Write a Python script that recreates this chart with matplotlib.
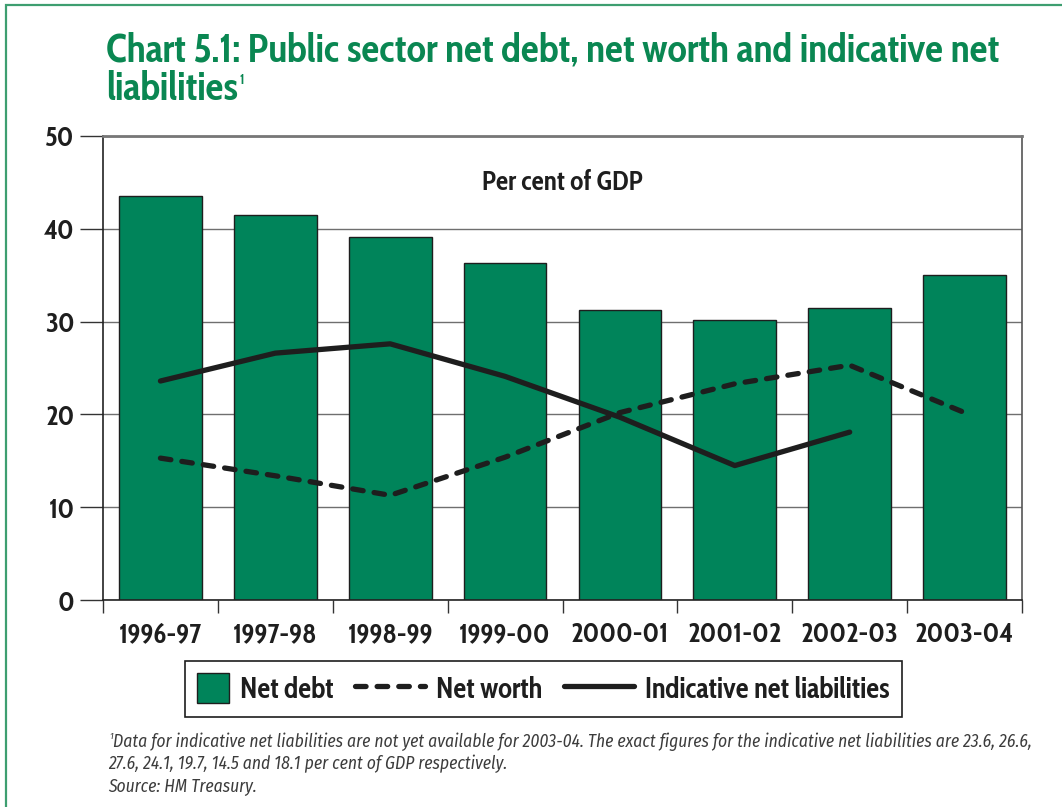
import numpy as np
import matplotlib
matplotlib.use("Agg")
import matplotlib.pyplot as plt
from matplotlib.patches import Patch, Rectangle
from matplotlib.lines import Line2D
from matplotlib.legend_handler import HandlerLine2D

# ---- data -------------------------------------------------------------
years = ["1996-97", "1997-98", "1998-99", "1999-00",
         "2000-01", "2001-02", "2002-03", "2003-04"]
net_debt = [43.5, 41.5, 39.1, 36.3, 31.2, 30.2, 31.5, 35.0]
net_worth = [15.3, 13.4, 11.3, 15.4, 20.2, 23.3, 25.3, 20.2]
indicative_liabilities = [23.6, 26.6, 27.6, 24.1, 19.7, 14.5, 18.1]
y_ticks = [0, 10, 20, 30, 40, 50]

# ---- style ------------------------------------------------------------
GREEN = "#00845A"
TITLE_GREEN = "#0A8752"
FRAME_GREEN = "#3E9E70"
INK = "#1e1e1e"
FONT = ["Cabin Condensed", "PT Sans Narrow", "DejaVu Sans"]
NOTE_FONT = ["Fira Sans Condensed", "Cabin", "DejaVu Sans"]
plt.rcParams["font.family"] = FONT

LINE_W = 3.8
DASH = (0, (2.0, 2.1))

W, H = 1062, 807
fig = plt.figure(figsize=(W / 100, H / 100), dpi=100)


def fx(px):
    return px / W


def fy(py):
    return 1 - py / H


# page frame (top and left rules of the box)
fig.patches.append(Rectangle((fx(6), fy(1200)), fx(1300), fy(5) - fy(1200),
                             transform=fig.transFigure, fill=False,
                             edgecolor=FRAME_GREEN, lw=1.6))

# title
fig.text(fx(106), fy(61), "Chart 5.1: Public sector net debt, net worth and indicative net",
         color=TITLE_GREEN, fontsize=28.6, fontweight="bold", va="baseline", ha="left")
t2 = fig.text(fx(106), fy(100), "liabilities", color=TITLE_GREEN, fontsize=28.6,
              fontweight="bold", va="baseline", ha="left")
fig.canvas.draw()
bb = t2.get_window_extent()
fig.text(bb.x1 / W + fx(2), fy(84), "1", color=TITLE_GREEN, fontsize=10,
         fontweight="bold", va="baseline", ha="left")

# ---- axes ---------------------------------------------------------------
left, right, top, bottom = 103, 1022, 135.7, 600.3
ax = fig.add_axes([fx(left), fy(bottom), fx(right - left), (bottom - top) / H])

x = np.arange(len(years))
ax.bar(x, net_debt, width=0.72, color=GREEN, edgecolor=INK, lw=1.0, zorder=2)
ax.plot(x, net_worth, color=INK, lw=LINE_W, ls=DASH,
        dash_capstyle="round", solid_capstyle="round", zorder=3)
ax.plot(x[:len(indicative_liabilities)], indicative_liabilities, color=INK,
        lw=LINE_W, solid_capstyle="round", solid_joinstyle="round", zorder=3)

ax.set_xlim(-0.5, len(years) - 0.5)
ax.set_ylim(0, 50)
ax.set_yticks(y_ticks)
ax.set_yticklabels([str(v) for v in y_ticks], fontsize=20, fontweight="bold", color=INK)
ax.tick_params(axis="y", length=16.5, width=1.0, color="#333333", pad=4)

ax.set_xticks(x)
ax.set_xticklabels(years, fontsize=20, fontweight="bold", color=INK)
ax.set_xticks(np.arange(-0.5, len(years)), minor=True)
ax.tick_params(axis="x", which="major", length=0, pad=15)
ax.tick_params(axis="x", which="minor", length=9, width=1.0, color="#333333", direction="out")

ax.yaxis.grid(True, color="#6f6f6f", lw=1.0, zorder=0)
ax.set_axisbelow(True)
for side in ("left", "bottom"):
    ax.spines[side].set_color("#222222")
    ax.spines[side].set_linewidth(1.2)
ax.spines["top"].set_color("#777777")
ax.spines["top"].set_linewidth(2.0)
ax.spines["right"].set_color("#555555")
ax.spines["right"].set_linewidth(1.2)

ax.text(0.5, 0.898, "Per cent of GDP", transform=ax.transAxes, ha="center",
        va="center", fontsize=19.5, fontweight="bold", color=INK)


# ---- legend -------------------------------------------------------------
class WideLineHandler(HandlerLine2D):
    """Line handle that extends to the left of its (narrow) handle box."""

    def __init__(self, span, **kw):
        super().__init__(**kw)
        self.span = span

    def get_xdata(self, legend, xdescent, ydescent, width, height, fontsize):
        x1 = -xdescent + width
        x0 = x1 - self.span
        return np.array([x0, x1]), np.array([x0, x1])


handles = [
    Patch(facecolor=GREEN, edgecolor=INK, lw=1.0),
    Line2D([], [], color=INK, lw=LINE_W, ls=DASH, dash_capstyle="round"),
    Line2D([], [], color=INK, lw=LINE_W, solid_capstyle="round"),
]
labels = ["Net debt", "Net worth", "Indicative net liabilities"]
leg = fig.legend(handles, labels, ncol=3, loc="center", bbox_to_anchor=(fx(543.5), fy(689)),
                 prop={"family": FONT, "weight": "bold", "size": 20.5},
                 frameon=True, fancybox=False, edgecolor=INK, framealpha=1,
                 handlelength=1.1, handleheight=1.25, handletextpad=0.4,
                 columnspacing=2.1, borderpad=0.42,
                 handler_map={handles[1]: WideLineHandler(50),
                              handles[2]: WideLineHandler(50)})
leg.get_frame().set_linewidth(1.2)
for t in leg.get_texts():
    t.set_color(INK)

# ---- footnote -----------------------------------------------------------
NOTE_COLOR = "#3c3c3c"
note_kw = dict(fontsize=12.6, style="italic", fontweight="normal", color=NOTE_COLOR,
               va="baseline", family=NOTE_FONT)
fig.text(fx(109), fy(739), "1", **{**note_kw, "fontsize": 7})
fig.text(fx(113), fy(747),
         "Data for indicative net liabilities are not yet available for 2003-04. The exact figures "
         "for the indicative net liabilities are 23.6, 26.6,", **note_kw)
fig.text(fx(108), fy(769),
         "27.6, 24.1, 19.7, 14.5 and 18.1 per cent of GDP respectively.", **note_kw)
fig.text(fx(108), fy(791), "Source: HM Treasury.", **note_kw)

fig.savefig("out.png", dpi=100)
